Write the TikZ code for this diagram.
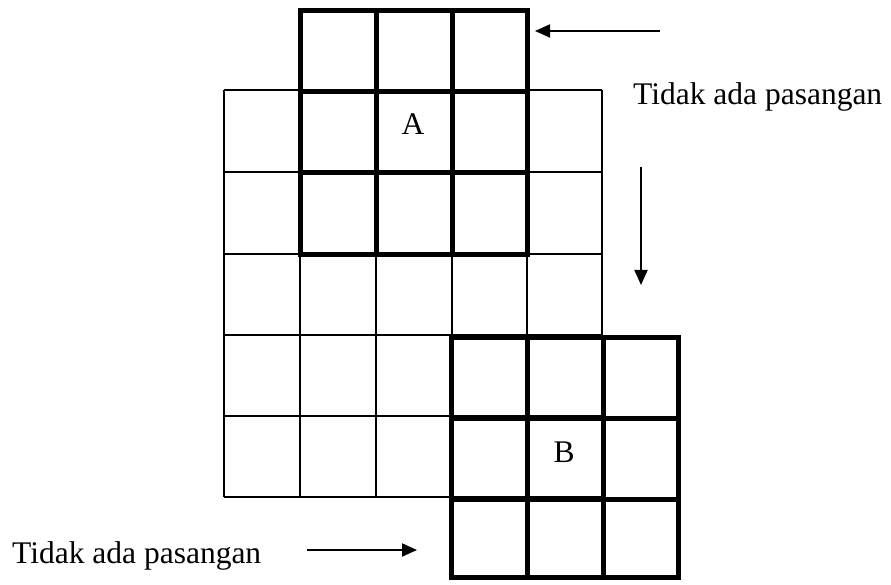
\documentclass[tikz,border=0pt]{standalone}
\usepackage{fontspec}
\setmainfont{Liberation Serif}
\usetikzlibrary{arrows.meta}
\begin{document}
\begin{tikzpicture}[x=1pt,y=-1pt,
  thin grid/.style={line width=1.7pt, black},
  thick grid/.style={line width=5pt, black, line cap=rect},
  arr/.style={line width=2pt, -{Triangle[length=15pt,width=13pt]}},
  lbl/.style={inner sep=0pt, font=\fontsize{31.5}{36}\selectfont}]
\useasboundingbox (0,0) rectangle (891,585);
% thin background grid (5 x 5)
\foreach \x in {224,300,376,452,527,602} \draw[thin grid] (\x,90) -- (\x,497);
\foreach \y in {90,172,254,335,416,497} \draw[thin grid] (224,\y) -- (602,\y);
% thick window A
\foreach \x in {300,376,452,527} \draw[thick grid] (\x,11) -- (\x,255);
\foreach \y in {11,92,173,255} \draw[thick grid] (300,\y) -- (527,\y);
% thick window B
\foreach \x in {451,527,603,678} \draw[thick grid] (\x,337) -- (\x,577);
\foreach \y in {337,418,499,577} \draw[thick grid] (451,\y) -- (678,\y);
% labels
\node[lbl] (A) at (413,124) {A};
\node[lbl] (B) at (564,452) {B};
\node[lbl, anchor=base west] (t1) at (633,105) {Tidak ada pasangan};
\node[lbl, anchor=base west] (t2) at (12,563) {Tidak ada pasangan};
% arrows
\coordinate (a1s) at (660,31);
\coordinate (a1e) at (535,31);
\coordinate (a2s) at (641,167);
\coordinate (a2e) at (641,285);
\coordinate (a3s) at (307,550);
\coordinate (a3e) at (417,550);
\draw[arr] (a1s) -- (a1e);
\draw[arr] (a2s) -- (a2e);
\draw[arr] (a3s) -- (a3e);
\end{tikzpicture}
\end{document}
